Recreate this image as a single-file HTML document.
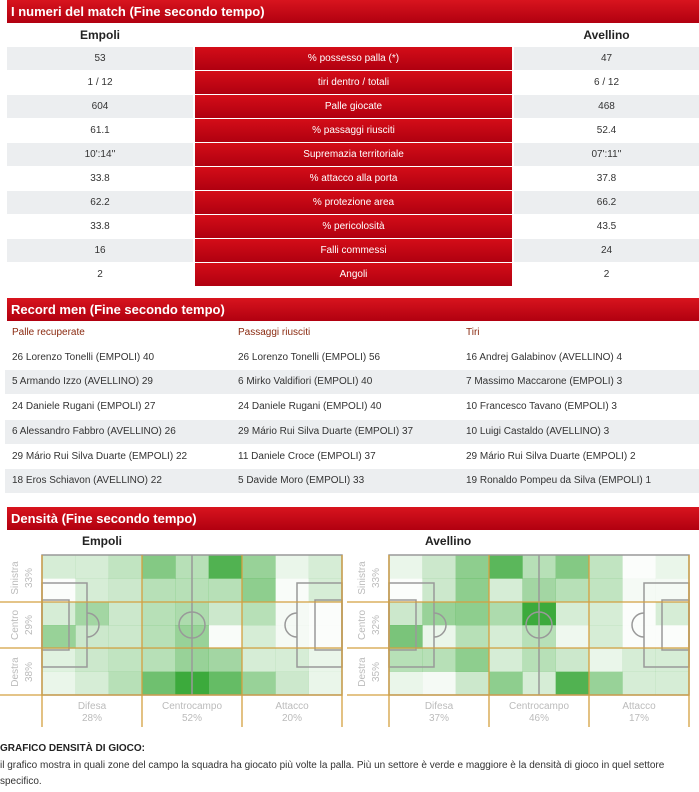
<!DOCTYPE html>
<html><head><meta charset="utf-8"><style>
*{margin:0;padding:0;box-sizing:border-box}
body{width:699px;height:792px;background:#fff;font-family:"Liberation Sans",Arial,sans-serif;position:relative;overflow:hidden;color:#333}
.a{position:absolute}
.hdr{position:absolute;left:7px;width:692px;height:23px;background:linear-gradient(#d8141e,#b10010);color:#fff;font-weight:bold;font-size:13px;line-height:23px;padding-left:4px}
.cell{position:absolute;height:23px;line-height:23px;font-size:10px;text-align:center}
.g{background:#eceef0}
.r{background:linear-gradient(#d40d18,#b00010);color:#fff}
.rm{position:absolute;font-size:10px;line-height:24px;height:24px}
.lbl{position:absolute;font-size:10px;color:#bbb;text-align:center;line-height:11px}
</style></head><body>
<div class="hdr" style="top:0">I numeri del match (Fine secondo tempo)</div>
<div class="a" style="left:7px;width:186px;top:25px;text-align:center;font-weight:bold;font-size:12px;line-height:20px;color:#222">Empoli</div>
<div class="a" style="left:514px;width:185px;top:25px;text-align:center;font-weight:bold;font-size:12px;line-height:20px;color:#222">Avellino</div>
<div id="stats"></div>
<div class="hdr" style="top:298px">Record men (Fine secondo tempo)</div>
<div id="rec"></div>
<div class="hdr" style="top:507px">Densità (Fine secondo tempo)</div>
<div class="a" style="left:82px;top:534px;font-weight:bold;font-size:12px;color:#222">Empoli</div>
<div class="a" style="left:425px;top:534px;font-weight:bold;font-size:12px;color:#222">Avellino</div>
<div id="p1"></div><div id="p2"></div>
<div class="a" style="left:0;top:743px;font-size:10px;font-weight:bold;color:#222">GRAFICO DENSITÀ DI GIOCO:</div>
<div class="a" style="left:0;top:758px;width:699px;font-size:10px;line-height:16px;color:#333">il grafico mostra in quali zone del campo la squadra ha giocato più volte la palla. Più un settore è verde e maggiore è la densità di gioco in quel settore specifico.</div>
<script>
var S=[["53","% possesso palla (*)","47"],["1 / 12","tiri dentro / totali","6 / 12"],["604","Palle giocate","468"],["61.1","% passaggi riusciti","52.4"],["10':14''","Supremazia territoriale","07':11''"],["33.8","% attacco alla porta","37.8"],["62.2","% protezione area","66.2"],["33.8","% pericolosità","43.5"],["16","Falli commessi","24"],["2","Angoli","2"]];
var h="";S.forEach(function(s,i){var y=47+i*24;var c=i%2==0?"g":"";
h+='<div class="cell '+c+'" style="left:7px;width:186px;top:'+y+'px">'+s[0]+'</div>';
h+='<div class="cell r" style="left:195px;width:317px;top:'+y+'px">'+s[1]+'</div>';
h+='<div class="cell '+c+'" style="left:514px;width:185px;top:'+y+'px">'+s[2]+'</div>';});
document.getElementById("stats").innerHTML=h;
var R=[["Palle recuperate","Passaggi riusciti","Tiri"],
["26 Lorenzo Tonelli (EMPOLI) 40","26 Lorenzo Tonelli (EMPOLI) 56","16 Andrej Galabinov (AVELLINO) 4"],
["5 Armando Izzo (AVELLINO) 29","6 Mirko Valdifiori (EMPOLI) 40","7 Massimo Maccarone (EMPOLI) 3"],
["24 Daniele Rugani (EMPOLI) 27","24 Daniele Rugani (EMPOLI) 40","10 Francesco Tavano (EMPOLI) 3"],
["6 Alessandro Fabbro (AVELLINO) 26","29 Mário Rui Silva Duarte (EMPOLI) 37","10 Luigi Castaldo (AVELLINO) 3"],
["29 Mário Rui Silva Duarte (EMPOLI) 22","11 Daniele Croce (EMPOLI) 37","29 Mário Rui Silva Duarte (EMPOLI) 2"],
["18 Eros Schiavon (AVELLINO) 22","5 Davide Moro (EMPOLI) 33","19 Ronaldo Pompeu da Silva (EMPOLI) 1"]];
h="";R.forEach(function(r,i){var y=321+i*24.7;
if(i%2==0&&i>0)h+='<div class="a g" style="left:5px;width:694px;top:'+y+'px;height:24px"></div>';
var col=i==0?"color:#8a2a10;":"";
[12,238,466].forEach(function(x,j){h+='<div class="rm" style="left:'+x+'px;top:'+y+'px;'+col+'">'+r[j]+'</div>';});});
document.getElementById("rec").innerHTML=h;
function pitch(id,X,M,rl,cl){var W=300,H=140,Y=555,cw=W/9,ch=H/6;
var s='<svg class="a" style="left:0;top:0" width="699" height="792">';
for(var r=0;r<6;r++)for(var c=0;c<9;c++){s+='<rect x="'+(X+c*cw)+'" y="'+(Y+r*ch)+'" width="'+(cw+0.3)+'" height="'+(ch+0.3)+'" fill="rgb(50,165,50)" fill-opacity="'+M[r][c]+'"/>';}
var g='stroke="#999" stroke-width="1.5" fill="none"';
s+='<rect x="'+X+'" y="'+Y+'" width="'+W+'" height="'+H+'" '+g+'/>';
s+='<line x1="'+(X+150)+'" y1="'+Y+'" x2="'+(X+150)+'" y2="'+(Y+H)+'" '+g+'/>';
s+='<circle cx="'+(X+150)+'" cy="'+(Y+70)+'" r="13" '+g+'/>';
s+='<rect x="'+X+'" y="'+(Y+28)+'" width="45" height="84" '+g+'/><rect x="'+X+'" y="'+(Y+45)+'" width="27" height="50" '+g+'/>';
s+='<rect x="'+(X+W-45)+'" y="'+(Y+28)+'" width="45" height="84" '+g+'/><rect x="'+(X+W-27)+'" y="'+(Y+45)+'" width="27" height="50" '+g+'/>';
s+='<path d="M'+(X+45)+' '+(Y+58)+' a12 12 0 0 1 0 24" '+g+'/><path d="M'+(X+W-45)+' '+(Y+58)+' a12 12 0 0 0 0 24" '+g+'/>';
var o='stroke="#d4a040" stroke-width="1.3"';
[0,100,200,300].forEach(function(d){s+='<line x1="'+(X+d)+'" y1="'+Y+'" x2="'+(X+d)+'" y2="'+(Y+172)+'" '+o+'/>';});
[47,93].forEach(function(d){s+='<line x1="'+(X-42)+'" y1="'+(Y+d)+'" x2="'+(X+W)+'" y2="'+(Y+d)+'" '+o+'/>';});
s+='<line x1="'+(X-42)+'" y1="'+(Y+H)+'" x2="'+(X+W)+'" y2="'+(Y+H)+'" '+o+'/>';
var nm=["Sinistra","Centro","Destra"];
for(var i=0;i<3;i++){var cy=Y+23+i*47;s+='<text transform="translate('+(X-24)+','+cy+') rotate(-90)" text-anchor="middle" font-size="10" fill="#bbb" font-family="Liberation Sans">'+nm[i]+'</text><text transform="translate('+(X-10)+','+cy+') rotate(-90)" text-anchor="middle" font-size="10" fill="#bbb" font-family="Liberation Sans">'+rl[i]+'</text>';}
var cn=["Difesa","Centrocampo","Attacco"];
for(var i=0;i<3;i++){var cx=X+50+i*100;s+='<text x="'+cx+'" y="'+(Y+154)+'" text-anchor="middle" font-size="10" fill="#bbb" font-family="Liberation Sans">'+cn[i]+'</text><text x="'+cx+'" y="'+(Y+166)+'" text-anchor="middle" font-size="10" fill="#bbb" font-family="Liberation Sans">'+cl[i]+'</text>';}
s+='</svg>';document.getElementById(id).innerHTML=s;}
pitch("p1",42,[[.2,.2,.3,.6,.35,.85,.5,.1,.2],[.02,.2,.25,.35,.35,.35,.55,.03,.2],[.2,.45,.25,.35,.4,.25,.35,.05,.02],[.5,.25,.25,.35,.5,.03,.2,.05,.02],[.15,.25,.3,.35,.5,.45,.2,.2,.1],[.1,.2,.35,.7,.95,.75,.5,.25,.1]],["33%","29%","38%"],["28%","52%","20%"]);
pitch("p2",389,[[.1,.25,.55,.8,.35,.6,.3,.02,.1],[.02,.25,.55,.2,.45,.35,.3,.05,.05],[.25,.5,.55,.4,.95,.2,.2,.02,.2],[.65,.1,.35,.2,.35,.08,.2,.02,.02],[.35,.35,.55,.2,.35,.25,.1,.2,.2],[.1,.05,.25,.55,.2,.85,.5,.2,.2]],["33%","32%","35%"],["37%","46%","17%"]);
</script>
</body></html>
